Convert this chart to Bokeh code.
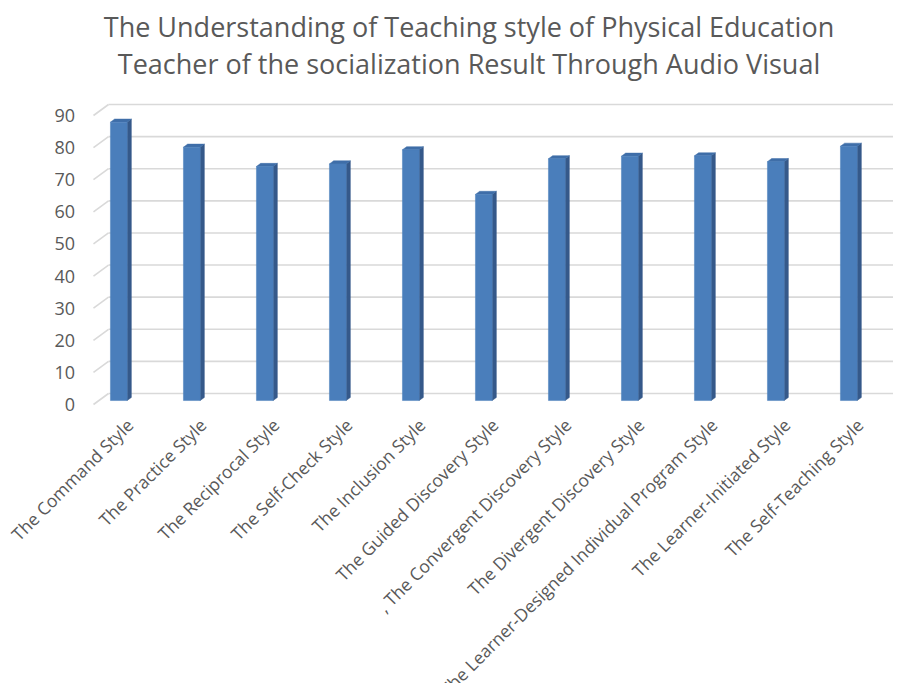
import math
from bokeh.plotting import figure
from bokeh.models import Range1d
from bokeh.core.properties import value
from bokeh.embed import file_html
from bokeh.resources import INLINE

# ---------------- data ----------------
categories = [
    "The Command Style",
    "The Practice Style",
    "The Reciprocal Style",
    "The Self-Check Style",
    "The Inclusion Style",
    "The Guided Discovery Style",
    ", The Convergent Discovery Style",
    "The Divergent Discovery Style",
    "The Learner-Designed Individual Program Style",
    "The Learner-Initiated Style",
    "The Self-Teaching Style",
]
scores = [86.7, 78.9, 72.9, 73.7, 78.1, 64.2, 75.3, 76.1, 76.2, 74.4, 79.2]
y_ticks = [0, 10, 20, 30, 40, 50, 60, 70, 80, 90]
y_tick_labels = [str(t) for t in y_ticks]
title_lines = [
    "The Understanding of Teaching style of Physical Education",
    "Teacher of the socialization Result Through Audio Visual",
]

# ---------------- layout / projection constants ----------------
W, H = 893, 683
PX_X = 73.0        # pixels per category
PX_Y = 3.2111      # pixels per value unit
X0 = 112.9         # canvas x of category 0 on the front plane
Y0 = 404.0         # canvas y of value 0 on the front plane
WALL_L = 93        # canvas x where the floor/wall starts

def xd(px):  # canvas x -> data x
    return (px - X0) / PX_X

def yd(py):  # canvas y -> data y
    return (Y0 - py) / PX_Y

DEPTH_X = 15 / PX_X     # 3D depth offset (data units)
DEPTH_Y = 11 / PX_Y
D0, D1 = 0.36, 0.64     # bar depth span
BAR_W = 16.7 / PX_X

FRONT = "#4a7ebb"
SIDE = "#35598a"
TOP = "#3f6ea8"
GRID = "#d9d9d9"
TEXT = "#595959"
FONT = "Open Sans"

p = figure(width=W, height=H, output_backend="svg", toolbar_location=None,
           x_range=Range1d(xd(0), xd(W)),
           y_range=Range1d(yd(H), yd(0)),
           x_axis_location=None, y_axis_location=None,
           min_border=0)
p.outline_line_color = None
p.grid.visible = False
p.background_fill_color = "white"
p.border_fill_color = "white"

n_t = len(y_ticks)
xs0 = xd(WALL_L)
xe = xd(W)

# gridlines: back wall + slanted floor stubs
p.segment(x0=[xs0 + DEPTH_X] * n_t, y0=[t + DEPTH_Y for t in y_ticks],
          x1=[xe] * n_t, y1=[t + DEPTH_Y for t in y_ticks],
          line_color=GRID, line_width=1.6)
p.segment(x0=[xs0] * n_t, y0=y_ticks,
          x1=[xs0 + DEPTH_X] * n_t, y1=[t + DEPTH_Y for t in y_ticks],
          line_color=GRID, line_width=1.6)

# y tick labels on the front plane
p.text(x=[xd(WALL_L - 18.5)] * n_t, y=y_ticks, text=y_tick_labels,
       text_align="right", text_baseline="middle",
       text_font=value(FONT), text_font_size="18px", text_color=TEXT)

# bars (3D columns)
idx = list(range(len(categories)))
L = [i + D0 * DEPTH_X - BAR_W / 2 for i in idx]
R = [i + D0 * DEPTH_X + BAR_W / 2 for i in idx]
B = [D0 * DEPTH_Y for _ in idx]
T = [v + D0 * DEPTH_Y for v in scores]
ddx = (D1 - D0) * DEPTH_X
ddy = (D1 - D0) * DEPTH_Y

side_xs = [[r, r, r + ddx, r + ddx] for r in R]
side_ys = [[b, t, t + ddy, b + ddy] for b, t in zip(B, T)]
top_xs = [[l, r, r + ddx, l + ddx] for l, r in zip(L, R)]
top_ys = [[t, t, t + ddy, t + ddy] for t in T]

p.patches(side_xs, side_ys, fill_color=SIDE, line_color=SIDE, line_width=0.5)
p.patches(top_xs, top_ys, fill_color=TOP, line_color=TOP, line_width=0.5)
p.quad(left=L, right=R, bottom=B, top=T, fill_color=FRONT, line_color=FRONT, line_width=0.5)

# category labels (rotated 45 degrees)
p.text(x=[i + 11 / PX_X + D0 * DEPTH_X for i in idx],
       y=[yd(Y0 + 17)] * len(idx), text=categories,
       angle=math.pi / 4, text_align="right", text_baseline="middle",
       text_font=value(FONT), text_font_size="17.5px", text_color=TEXT)

# title
p.text(x=[xd(468.5)] * 2, y=[yd(25.7), yd(63.3)], text=title_lines,
       text_align="center", text_baseline="alphabetic",
       text_font=value(FONT), text_font_size="27px", text_color=TEXT)

open("out.html", "w").write(file_html(p, INLINE))
